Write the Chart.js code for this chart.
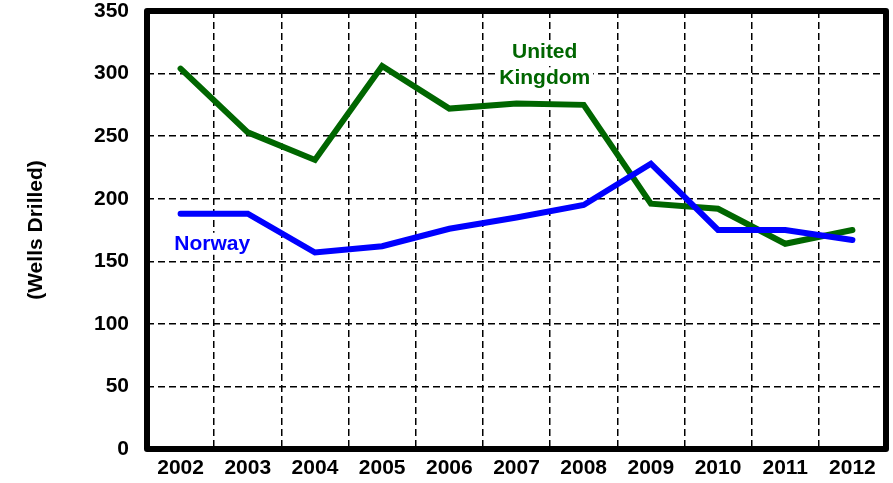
<!DOCTYPE html>
<html>
<head>
<meta charset="utf-8">
<script src="https://cdn.jsdelivr.net/npm/chart.js@4/dist/chart.umd.min.js"></script>
<style>
  html, body { margin: 0; padding: 0; background: #fff; }
  #wrap { width: 893px; height: 483px; }
</style>
</head>
<body>
<div id="wrap"><canvas id="wells"></canvas></div>
<script>
// Wells drilled per year
const years = ["2002", "2003", "2004", "2005", "2006", "2007", "2008", "2009", "2010", "2011", "2012"]
const norway = [188, 188, 157, 162, 176, 185, 195, 228, 175, 175, 167]
const unitedKingdom = [304, 253, 231, 306, 272, 276, 275, 196, 192, 164, 175]
const yTicks = [0, 50, 100, 150, 200, 250, 300, 350]

const FONT = "'Liberation Sans', Arial, sans-serif"

// in-plot series labels, placed in data coordinates (category index, value)
const seriesLabels = [
  { lines: ["Norway"], at: [0.47, 164], color: "#0000ff" },
  { lines: ["United", "Kingdom"], at: [5.42, 317], color: "#006600" },
]

const labelPlugin = {
  id: "seriesLabels",
  afterDatasetsDraw(chart) {
    const { ctx, scales } = chart
    ctx.save()
    ctx.font = "bold 21px " + FONT
    ctx.textAlign = "center"
    ctx.textBaseline = "middle"
    seriesLabels.forEach((lab) => {
      const x = scales.x.getPixelForValue(lab.at[0])
      const y0 = scales.y.getPixelForValue(lab.at[1])
      lab.lines.forEach((t, i) => {
        const y = y0 + i * 26
        const w = ctx.measureText(t).width
        ctx.fillStyle = "#fff"
        ctx.fillRect(x - w / 2 - 3, y - 11, w + 6, 22)
        ctx.fillStyle = lab.color
        ctx.fillText(t, x, y)
      })
    })
    ctx.restore()
  },
}

const framePlugin = {
  id: "frame",
  afterDraw(chart) {
    const { ctx, chartArea: a } = chart
    ctx.save()
    ctx.strokeStyle = "#000"
    ctx.lineWidth = 6
    ctx.lineJoin = "round"
    ctx.strokeRect(a.left, a.top, a.right - a.left, a.bottom - a.top)
    ctx.restore()
  },
}

new Chart(document.getElementById("wells"), {
  type: "line",
  data: {
    labels: years,
    datasets: [
      {
        label: "Norway",
        data: norway,
        borderColor: "#0000ff",
        borderWidth: 6,
        pointRadius: 0,
        tension: 0,
        borderCapStyle: "round",
        borderJoinStyle: "miter",
      },
      {
        label: "United Kingdom",
        data: unitedKingdom,
        borderColor: "#006600",
        borderWidth: 6,
        pointRadius: 0,
        tension: 0,
        borderCapStyle: "round",
        borderJoinStyle: "miter",
      },
    ],
  },
  options: {
    responsive: true,
    maintainAspectRatio: false,
    animation: false,
    layout: { padding: { top: 11, right: 7, left: 0, bottom: 0 } },
    plugins: { legend: { display: false }, tooltip: { enabled: false } },
    scales: {
      x: {
        offset: true,
        grid: { offset: true, color: "#000", lineWidth: 1.5, drawTicks: false },
        border: { display: false, dash: [7, 4] },
        ticks: { color: "#000", padding: 7, font: { family: FONT, size: 21, weight: "bold" } },
        afterFit: (s) => { s.height = 34; s.paddingLeft = 0; s.paddingRight = 0 },
      },
      y: {
        min: 0,
        max: 350,
        afterBuildTicks: (s) => { s.ticks = yTicks.map((v) => ({ value: v })) },
        grid: { color: "#000", lineWidth: 1.5, drawTicks: false },
        border: { display: false, dash: [7, 4] },
        ticks: { color: "#000", padding: 18, font: { family: FONT, size: 21, weight: "bold" } },
        title: {
          display: true,
          text: "(Wells Drilled)",
          color: "#000",
          padding: { top: 24, bottom: 0 },
          font: { family: FONT, size: 21, weight: "bold" },
        },
        afterFit: (s) => { s.width = 147; s.paddingTop = 0; s.paddingBottom = 0 },
      },
    },
  },
  plugins: [labelPlugin, framePlugin],
})
</script>
</body>
</html>
